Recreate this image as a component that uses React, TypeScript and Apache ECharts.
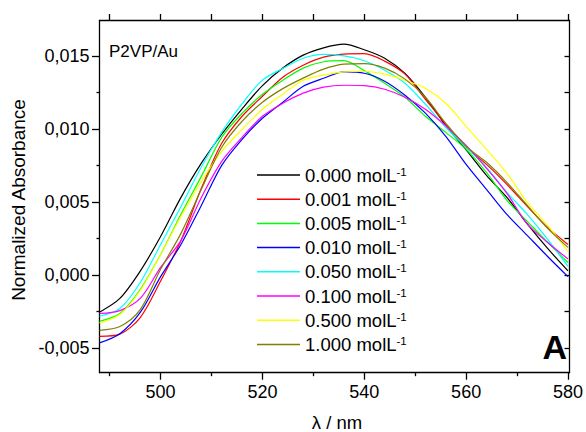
import React, { useEffect, useRef } from 'react';
import * as echarts from 'echarts';

const wavelengths = [488, 492, 496, 500, 504, 508, 512, 516, 520, 524, 528, 532, 536, 540, 544, 548, 552, 556, 560, 564, 568, 572, 576, 580];

const c0000 = [-0.00253, -0.00159, 0.00028, 0.00265, 0.00532, 0.00766, 0.00964, 0.01138, 0.01297, 0.01417, 0.01505, 0.01555, 0.01580, 0.01542, 0.01484, 0.01380, 0.01217, 0.01023, 0.00857, 0.00683, 0.00532, 0.00351, 0.00183, 0.00030];
const c0001 = [-0.00418, -0.00403, -0.00290, -0.00040, 0.00238, 0.00594, 0.00902, 0.01087, 0.01224, 0.01354, 0.01436, 0.01491, 0.01512, 0.01515, 0.01464, 0.01375, 0.01203, 0.01032, 0.00875, 0.00758, 0.00621, 0.00471, 0.00327, 0.00210];
const c0005 = [-0.00315, -0.00262, -0.00098, 0.00142, 0.00416, 0.00676, 0.00943, 0.01107, 0.01237, 0.01334, 0.01416, 0.01460, 0.01467, 0.01399, 0.01313, 0.01217, 0.01087, 0.00977, 0.00861, 0.00703, 0.00512, 0.00368, 0.00224, 0.00087];
const c0010 = [-0.00463, -0.00400, -0.00255, -0.00010, 0.00210, 0.00477, 0.00751, 0.00929, 0.01073, 0.01183, 0.01292, 0.01347, 0.01390, 0.01381, 0.01327, 0.01231, 0.01108, 0.00950, 0.00758, 0.00587, 0.00416, 0.00272, 0.00128, -0.00010];
const c0050 = [-0.00281, -0.00228, -0.00050, 0.00210, 0.00470, 0.00740, 0.00979, 0.01172, 0.01334, 0.01414, 0.01484, 0.01510, 0.01500, 0.01467, 0.01402, 0.01313, 0.01169, 0.01012, 0.00875, 0.00738, 0.00566, 0.00416, 0.00245, 0.00060];
const c0100 = [-0.00262, -0.00242, -0.00159, 0.00053, 0.00238, 0.00532, 0.00779, 0.00943, 0.01087, 0.01176, 0.01245, 0.01286, 0.01299, 0.01296, 0.01272, 0.01217, 0.01135, 0.01021, 0.00888, 0.00731, 0.00560, 0.00351, 0.00224, 0.00111];
const c0500 = [-0.00326, -0.00269, -0.00105, 0.00142, 0.00402, 0.00642, 0.00847, 0.00998, 0.01135, 0.01238, 0.01333, 0.01368, 0.01390, 0.01395, 0.01375, 0.01333, 0.01279, 0.01176, 0.01018, 0.00861, 0.00697, 0.00498, 0.00340, 0.00162];
const c1000 = [-0.00377, -0.00351, -0.00235, 0.00040, 0.00286, 0.00587, 0.00875, 0.01053, 0.01183, 0.01276, 0.01348, 0.01409, 0.01443, 0.01447, 0.01416, 0.01341, 0.01217, 0.01039, 0.00881, 0.00772, 0.00635, 0.00477, 0.00320, 0.00190];

const seriesNames = ['0.000', '0.001', '0.005', '0.010', '0.050', '0.100', '0.500', '1.000'];
const seriesValues = [c0000, c0001, c0005, c0010, c0050, c0100, c0500, c1000];
const seriesColors = ['#000000', '#ff0000', '#00ff00', '#0000ff', '#00ffff', '#ff00ff', '#ffff00', '#808000'];

const xMajorTicks = [500, 520, 540, 560, 580];
const xMinorTicks = [490, 510, 530, 550, 570];
const xAllTicks = [490, 500, 510, 520, 530, 540, 550, 560, 570, 580];
const yMajorTicks = [-0.005, 0, 0.005, 0.01, 0.015];
const yMinorTicks = [-0.0025, 0.0025, 0.0075, 0.0125];
const yAllTicks = [-0.005, -0.0025, 0, 0.0025, 0.005, 0.0075, 0.01, 0.0125, 0.015];

const X_MIN = 488;
const X_MAX = 580.3;
const Y_MIN = -0.00667;
const Y_MAX = 0.01742;

const FONT = '"Liberation Sans", Arial, sans-serif';

export default function App() {
  const ref = useRef<HTMLDivElement>(null);

  useEffect(() => {
    if (!ref.current) return;
    const chart = echarts.init(ref.current, undefined, { renderer: 'svg' });
    const lineStyle = { color: '#000', width: 1.3 };
    const hiddenLine = { show: false, onZero: false };

    const baseX = { type: 'value', min: X_MIN, max: X_MAX, splitLine: { show: false }, gridIndex: 0 };
    const baseY = { type: 'value', min: Y_MIN, max: Y_MAX, splitLine: { show: false }, gridIndex: 0 };

    const option: any = {
      animation: false,
      backgroundColor: '#ffffff',
      grid: { left: 99.5, right: 11, top: 20.5, bottom: 59.3, containLabel: false },
      xAxis: [
        {
          ...baseX,
          position: 'bottom',
          axisLine: { show: true, onZero: false, lineStyle },
          axisTick: { show: true, customValues: xMajorTicks, length: 7, lineStyle },
          axisLabel: { show: true, customValues: xMajorTicks, fontSize: 18, fontFamily: FONT, color: '#000', margin: 10 },
        },
        {
          ...baseX,
          position: 'bottom',
          axisLine: hiddenLine,
          axisTick: { show: true, customValues: xMinorTicks, length: 3.5, lineStyle },
          axisLabel: { show: false },
        },
        {
          ...baseX,
          position: 'top',
          axisLine: { show: true, onZero: false, lineStyle },
          axisTick: { show: true, customValues: xAllTicks, length: 6.5, lineStyle },
          axisLabel: { show: false },
        },
      ],
      yAxis: [
        {
          ...baseY,
          position: 'left',
          axisLine: { show: true, onZero: false, lineStyle },
          axisTick: { show: true, customValues: yMajorTicks, length: 7.5, lineStyle },
          axisLabel: {
            show: true,
            customValues: yMajorTicks,
            fontSize: 18,
            fontFamily: FONT,
            color: '#000',
            margin: 10,
            formatter: (v: number) => v.toFixed(3).replace('.', ','),
          },
        },
        {
          ...baseY,
          position: 'left',
          axisLine: hiddenLine,
          axisTick: { show: true, customValues: yMinorTicks, length: 3, lineStyle },
          axisLabel: { show: false },
        },
        {
          ...baseY,
          position: 'right',
          axisLine: { show: true, onZero: false, lineStyle },
          axisTick: { show: true, inside: true, customValues: yAllTicks, length: 5, lineStyle },
          axisLabel: { show: false },
        },
      ],
      legend: {
        orient: 'vertical',
        left: 257,
        top: 165.5,
        padding: 0,
        icon: 'rect',
        itemWidth: 43,
        itemHeight: 1.5,
        itemGap: 5.2,
        selectedMode: false,
        data: seriesNames,
        formatter: (n: string) => `{t|${n} molL}{s|-1}`,
        textStyle: {
          color: '#000',
          fontFamily: FONT,
          fontSize: 18.5,
          rich: {
            t: { fontSize: 18.5, fontFamily: FONT, color: '#000', lineHeight: 19 },
            s: { fontSize: 11.5, fontFamily: FONT, color: '#000', lineHeight: 11, verticalAlign: 'top' },
          },
        },
      },
      series: seriesNames.map((name, si) => ({
        type: 'line',
        name,
        xAxisIndex: 0,
        yAxisIndex: 0,
        symbol: 'none',
        smooth: 0.3,
        data: wavelengths.map((w, i) => [w, seriesValues[si][i]]),
        lineStyle: { width: 1.2, color: seriesColors[si] },
        itemStyle: { color: seriesColors[si] },
      })),
      graphic: [
        {
          type: 'text',
          x: 109,
          y: 51,
          style: { text: 'P2VP/Au', fill: '#000', font: `17px ${FONT}`, align: 'left', verticalAlign: 'middle' },
        },
        {
          type: 'text',
          x: 567,
          y: 347,
          style: { text: 'A', fill: '#000', font: `bold 34px ${FONT}`, align: 'right', verticalAlign: 'middle' },
        },
        {
          type: 'text',
          x: 18.5,
          y: 200,
          rotation: Math.PI / 2,
          style: { text: 'Normalized Absorbance', fill: '#000', font: `19px ${FONT}`, align: 'center', verticalAlign: 'middle' },
        },
        {
          type: 'text',
          x: 337,
          y: 422,
          style: { text: 'λ / nm', fill: '#000', font: `18.5px ${FONT}`, align: 'center', verticalAlign: 'middle' },
        },
      ],
    };
    chart.setOption(option);
    return () => chart.dispose();
  }, []);

  return <div ref={ref} style={{ position: 'fixed', left: 0, top: 0, width: 586, height: 432 }} />;
}
